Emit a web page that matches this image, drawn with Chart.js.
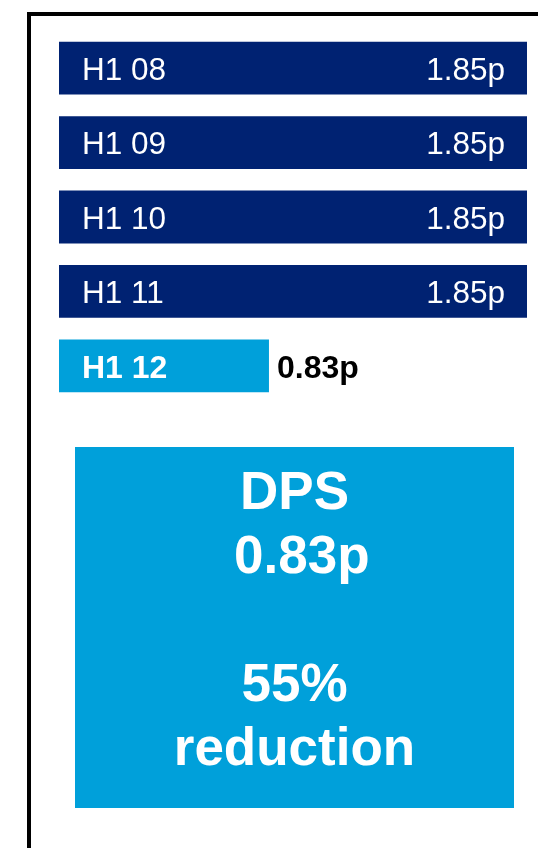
<!DOCTYPE html>
<html>
<head>
<meta charset="utf-8">
<script src="https://cdn.jsdelivr.net/npm/chart.js@4"></script>
<style>
  html, body { margin: 0; padding: 0; background: #fff; }
  body { width: 538px; height: 848px; position: relative; overflow: hidden;
         font-family: "Liberation Sans", Arial, sans-serif; }
  .frame { position: absolute; left: 27px; top: 12px; width: 700px; height: 1000px;
           border-left: 4px solid #000; border-top: 4px solid #000; box-sizing: border-box; }
  #wrap { position: absolute; left: 59px; top: 31px; width: 468px; height: 372px; }
  .box { position: absolute; left: 75px; top: 447px; width: 439px; height: 361px;
         background: #00a0da; color: #fff; font-weight: bold; font-size: 53px;
         line-height: 64px; text-align: center; white-space: pre; padding-top: 12px;
         box-sizing: border-box; }
</style>
</head>
<body>
<div class="frame"></div>
<div id="wrap"><canvas id="myChart" width="468" height="372"></canvas></div>
<div class="box">DPS
 0.83p

55%
reduction</div>

<script>
// dữ liệu cổ tức
var categories = ['H1 08', 'H1 09', 'H1 10', 'H1 11', 'H1 12'];
var values = [1.85, 1.85, 1.85, 1.85, 0.83];
var highlight = [false, false, false, false, true];

var navy = '#002272';
var lightBlue = '#00a0da';

// vẽ nhãn trong thanh
var barLabels = {
  id: 'barLabels',
  afterDatasetsDraw: function(chart) {
    var ctx = chart.ctx;
    var meta = chart.getDatasetMeta(0);
    ctx.save();
    ctx.textBaseline = 'middle';
    meta.data.forEach(function(bar, i) {
      var hi = highlight[i];
      ctx.font = (hi ? 'bold 32px' : '31.5px') + ' "Liberation Sans", Arial, sans-serif';
      ctx.fillStyle = '#fff';
      ctx.textAlign = 'left';
      ctx.fillText(categories[i], bar.base + 23, bar.y + 3);
      var txt = values[i].toFixed(2) + 'p';
      if (hi) {
        ctx.fillStyle = '#000';
        ctx.fillText(txt, bar.x + 8, bar.y + 3);
      } else {
        ctx.textAlign = 'right';
        ctx.fillText(txt, bar.x - 22, bar.y + 3);
      }
    });
    ctx.restore();
  }
};

var ctx = document.getElementById('myChart').getContext('2d');
var myChart = new Chart(ctx, {
  type: 'bar',
  data: {
    labels: categories,
    datasets: [{
      data: values,
      backgroundColor: highlight.map(function(h) { return h ? lightBlue : navy; }),
      borderWidth: 0,
      categoryPercentage: 1,
      barPercentage: 0.71
    }]
  },
  options: {
    indexAxis: 'y',
    responsive: false,
    animation: false,
    layout: { padding: 0 },
    plugins: { legend: { display: false }, tooltip: { enabled: false } },
    scales: {
      x: { display: false, min: 0, max: 1.85 },
      y: { display: false }
    }
  },
  plugins: [barLabels]
});
</script>
</body>
</html>
